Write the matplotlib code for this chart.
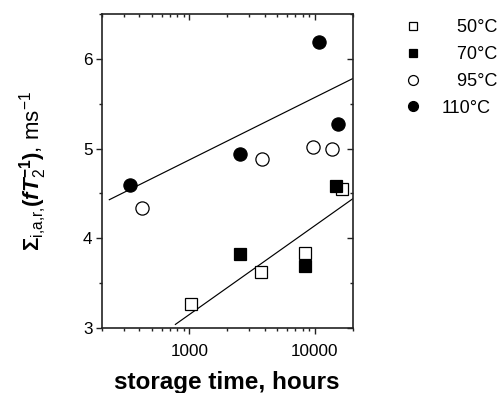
import matplotlib
matplotlib.use("Agg")
import matplotlib.pyplot as plt
from matplotlib.ticker import LogLocator, NullFormatter, FuncFormatter, MultipleLocator

plt.rcParams['font.family'] = ['Liberation Sans', 'DejaVu Sans']
plt.rcParams['mathtext.fontset'] = 'custom'
plt.rcParams['mathtext.rm'] = 'Liberation Sans'
plt.rcParams['mathtext.bf'] = 'Liberation Sans:bold'
plt.rcParams['mathtext.it'] = 'Liberation Sans:italic'
plt.rcParams['mathtext.bfit'] = 'Liberation Sans:italic:bold'

# storage time (hours) and relaxation sum (ms^-1) for each temperature
t50 = [1030, 3700, 8300, 16500]
v50 = [3.27, 3.62, 3.84, 4.55]
t70 = [2550, 8300, 14600]
v70 = [3.82, 3.69, 4.58]
t95 = [420, 3780, 9700, 13700]
v95 = [4.34, 4.88, 5.02, 5.00]
t110 = [336, 2520, 10700, 15200]
v110 = [4.59, 4.945, 6.19, 5.27]

# fitted trend lines (end points)
fit_hi_t = [230, 20000]
fit_hi_v = [4.43, 5.78]
fit_lo_t = [773, 20000]
fit_lo_v = [3.04, 4.44]

labels = ["\u2007 50°C", "\u2007 70°C", "\u2007 95°C", "110°C"]

W, H = 499, 393
fig = plt.figure(figsize=(W / 100, H / 100), dpi=100)
pos = [101.7 / W, 1 - 328 / H, (352.7 - 101.7) / W, (328 - 14) / H]
ax = fig.add_axes(pos)

edge = 0.9
ax.plot(fit_hi_t, fit_hi_v, color='black', lw=0.85, zorder=2)
ax.plot(fit_lo_t, fit_lo_v, color='black', lw=0.85, zorder=2)
h1, = ax.plot(t50, v50, 's', ms=8.2, mfc='white', mec='black', mew=edge, ls='none', zorder=3)
h2, = ax.plot(t70, v70, 's', ms=8.2, mfc='black', mec='black', mew=edge, ls='none', zorder=3)
h3, = ax.plot(t95, v95, 'o', ms=9.5, mfc='white', mec='black', mew=edge, ls='none', zorder=3)
h4, = ax.plot(t110, v110, 'o', ms=9.5, mfc='black', mec='black', mew=edge, ls='none', zorder=3)

ax.set_xscale('log')
ax.set_xlim(200, 20000)
ax.set_ylim(3, 6.5)
ax.set_yticks([3, 4, 5, 6])
ax.yaxis.set_minor_locator(MultipleLocator(0.5))
ax.xaxis.set_major_locator(LogLocator(base=10, numticks=10))
ax.xaxis.set_minor_locator(LogLocator(base=10, subs=range(2, 10), numticks=10))
ax.xaxis.set_major_formatter(FuncFormatter(lambda v, p: f'{v:g}'))
ax.xaxis.set_minor_formatter(NullFormatter())

for s in ax.spines.values():
    s.set_linewidth(1.2)
    s.set_color('#222222')
ax.spines['top'].set_visible(False)
ax.spines['right'].set_visible(False)

ax.tick_params(axis='both', which='major', direction='out', length=4.2, width=1.0,
               labelsize=12.3, color='#222222')
ax.tick_params(axis='both', which='minor', direction='out', length=2.2, width=1.0,
               color='#222222')
ax.tick_params(axis='x', which='major', pad=7.5)
ax.tick_params(axis='y', which='major', pad=2.5)

# mirrored frame with inward ticks on top and right
ax2 = fig.add_axes(pos, sharex=ax, sharey=ax, frameon=True)
ax2.patch.set_visible(False)
for name, s in ax2.spines.items():
    s.set_linewidth(1.2)
    s.set_color('#222222')
    if name in ('bottom', 'left'):
        s.set_visible(False)
ax2.tick_params(axis='both', which='both', direction='in', bottom=False, left=False,
                top=True, right=True, labelbottom=False, labelleft=False,
                labeltop=False, labelright=False, color='#222222', width=1.0)
ax2.tick_params(axis='both', which='major', length=4.2)
ax2.tick_params(axis='both', which='minor', length=2.2)

ax.set_xlabel('storage time, hours', fontsize=17.5, fontweight='bold', labelpad=8.5)
ax.set_ylabel(r'$\mathbf{\Sigma}_{\mathrm{i{,}a{,}r{,}}}\mathbf{(}\mathbfit{fT}_{\mathrm{2}}^{\mathbf{-1}}\mathbf{)}$, ms$^{\mathrm{-1}}$',
              fontsize=16, labelpad=24)

leg = fig.legend([h1, h2, h3, h4], labels, loc='upper left',
                 bbox_to_anchor=(404 / W, 1 - 19 / H), frameon=False,
                 fontsize=13, markerscale=0.75, handlelength=0.95,
                 handletextpad=1.15, labelspacing=0.55, borderpad=0, borderaxespad=0)

fig.savefig('out.png', dpi=100)
